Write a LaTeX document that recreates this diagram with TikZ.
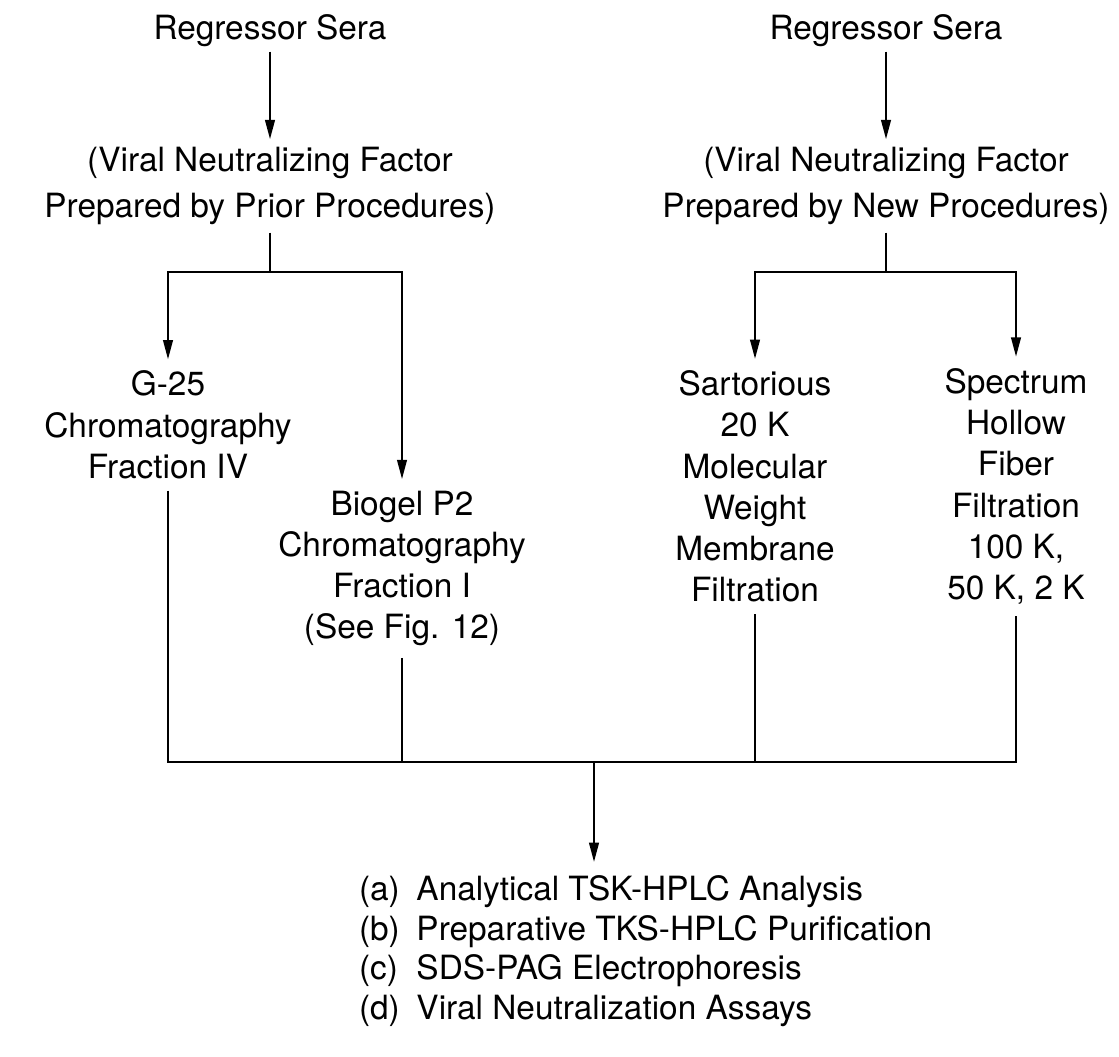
\documentclass[tikz,border=0pt]{standalone}
\usepackage{fontspec}
\setmainfont{TeX Gyre Heros}
\usetikzlibrary{arrows.meta}
\newcommand{\lbl}[1]{\makebox[1.72em][l]{(#1)}}

\begin{document}
\begin{tikzpicture}[
      line width=1.2pt,
      every node/.style={align=center, inner sep=6pt},
      col/.style={font=\fontsize{19}{23.5}\selectfont},
      src/.style={font=\fontsize{19}{22.8}\selectfont, inner sep=2pt},
      fac/.style={font=\fontsize{19}{26}\selectfont, inner sep=4pt},
      steps/.style={font=\fontsize{19}{22.6}\selectfont, align=left, anchor=north west,
                    inner xsep=0pt, inner ysep=7pt},
      arr/.style={-{Triangle[length=11pt,width=5.5pt]}}]
    \useasboundingbox (0,0) rectangle (22.38,21.14);
    \node[src] (rsL) at (5.40,20.52) {Regressor Sera};
    \node[src] (rsR) at (17.72,20.52) {Regressor Sera};
    \node[fac] (vnfL) at (5.40,17.42) {(Viral Neutralizing Factor\\Prepared by Prior Procedures)};
    \node[fac] (vnfR) at (17.72,17.42) {(Viral Neutralizing Factor\\Prepared by New Procedures)};
    \node[col] (g25)  at (3.36,12.64) {G-25\\Chromatography\\Fraction IV};
    \node[col] (bio)  at (8.04,9.77) {Biogel P2\\Chromatography\\Fraction I\\(See Fig. 12)};
    \node[col] (sart) at (15.10,11.41) {Sartorious\\20 K\\Molecular\\Weight\\Membrane\\Filtration};
    \node[col] (spec) at (20.32,11.41) {Spectrum\\Hollow\\Fiber\\Filtration\\100 K,\\50 K, 2 K};
    \node[steps] (lst) at (7.16,3.90) {\lbl{a}Analytical TSK-HPLC Analysis\\
      \lbl{b}Preparative TKS-HPLC Purification\\
      \lbl{c}SDS-PAG Electrophoresis\\
      \lbl{d}Viral Neutralization Assays};
    \coordinate (splitL) at (5.40,15.70);
    \coordinate (splitR) at (17.72,15.70);
    \coordinate (joinB) at (11.88,5.90);
    \draw[arr] (rsL) -- (vnfL);
    \draw[arr] (rsR) -- (vnfR);
    \draw (vnfL) -- (splitL);
    \draw (vnfR) -- (splitR);
    \foreach \n in {g25,bio} {\draw[arr] (splitL) -| (\n.north);}
    \foreach \n in {sart,spec} {\draw[arr] (splitR) -| (\n.north);}
    \foreach \n in {g25,bio,sart,spec} {\draw (\n.south) |- (joinB);}
    \draw[arr] (joinB) -- (joinB |- lst.north);
  \end{tikzpicture}
\end{document}
